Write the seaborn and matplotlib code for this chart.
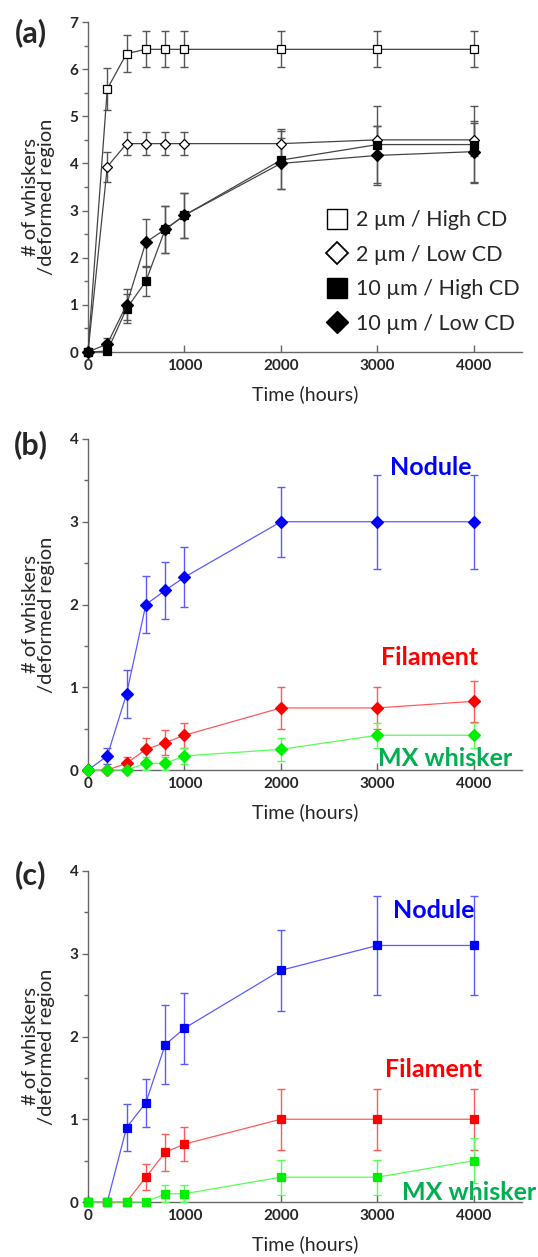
import matplotlib
matplotlib.use("Agg")
import matplotlib.pyplot as plt
import pandas as pd
import seaborn as sns
from matplotlib.lines import Line2D
from matplotlib.ticker import MultipleLocator

sns.set_style("ticks")
plt.rcParams['font.family'] = ['Lato', 'DejaVu Sans']

# ── Data ─────────────────────────────────────────────────
hours = [0, 200, 400, 600, 800, 1000, 2000, 3000, 4000]

# (a) size / current density
a_labels = ["2 µm / High CD", "2 µm / Low CD", "10 µm / High CD", "10 µm / Low CD"]
a_2um_high = [0, 5.58, 6.33, 6.42, 6.42, 6.42, 6.42, 6.42, 6.42]
a_2um_high_err = [0, 0.45, 0.39, 0.38, 0.38, 0.38, 0.38, 0.38, 0.38]
a_2um_low = [0, 3.93, 4.42, 4.42, 4.42, 4.42, 4.42, 4.50, 4.50]
a_2um_low_err = [0, 0.32, 0.25, 0.25, 0.25, 0.25, 0.30, 0.30, 0.35]
a_10um_high = [0, 0.02, 0.92, 1.50, 2.60, 2.90, 4.07, 4.40, 4.40]
a_10um_high_err = [0, 0, 0.30, 0.31, 0.50, 0.48, 0.62, 0.82, 0.82]
a_10um_low = [0, 0.17, 1.00, 2.33, 2.60, 2.90, 4.00, 4.17, 4.25]
a_10um_low_err = [0, 0.12, 0.33, 0.50, 0.50, 0.48, 0.55, 0.63, 0.65]

# (b) whisker types, diamonds
b_nodule = [0, 0.17, 0.92, 2.00, 2.17, 2.33, 3.00, 3.00, 3.00]
b_nodule_err = [0, 0.10, 0.29, 0.34, 0.34, 0.36, 0.42, 0.57, 0.57]
b_filament = [0, 0, 0.08, 0.25, 0.33, 0.42, 0.75, 0.75, 0.83]
b_filament_err = [0, 0, 0.08, 0.14, 0.15, 0.15, 0.25, 0.25, 0.25]
b_mx = [0, 0, 0, 0.08, 0.08, 0.17, 0.25, 0.42, 0.42]
b_mx_err = [0, 0, 0, 0.08, 0.08, 0.10, 0.14, 0.15, 0.15]

# (c) whisker types, squares
c_nodule = [0, 0, 0.90, 1.20, 1.90, 2.10, 2.80, 3.10, 3.10]
c_nodule_err = [0, 0, 0.28, 0.29, 0.48, 0.43, 0.49, 0.60, 0.60]
c_filament = [0, 0, 0, 0.30, 0.60, 0.70, 1.00, 1.00, 1.00]
c_filament_err = [0, 0, 0, 0.16, 0.22, 0.21, 0.37, 0.37, 0.37]
c_mx = [0, 0, 0, 0, 0.10, 0.10, 0.30, 0.30, 0.50]
c_mx_err = [0, 0, 0, 0, 0.10, 0.10, 0.21, 0.21, 0.27]

type_labels = ["Nodule", "Filament", "MX whisker"]

AXIS_GREY = "#666666"


def draw_series(ax, y, err, marker, ms, mfc, mec, line_color, err_color, z):
    df = pd.DataFrame({"t": hours, "y": y, "err": err})
    e = df[df["err"] > 0]
    ax.errorbar(e["t"], e["y"], yerr=e["err"], fmt="none", ecolor=err_color,
                elinewidth=1.0, capsize=3, capthick=1.0, zorder=z)
    sns.lineplot(data=df, x="t", y="y", ax=ax, color=line_color, linewidth=0.9,
                 marker=marker, markersize=ms, markerfacecolor=mfc,
                 markeredgecolor=mec, markeredgewidth=0.9, sort=False,
                 legend=False, zorder=z + 1, clip_on=False)


def style_axis(ax, ymax):
    ax.set_xlim(0, 4500)
    ax.set_ylim(0, ymax)
    ax.xaxis.set_major_locator(MultipleLocator(1000))
    ax.yaxis.set_major_locator(MultipleLocator(1))
    ax.yaxis.set_minor_locator(MultipleLocator(0.5))
    ax.tick_params(axis="x", direction="in", length=5, width=1, color=AXIS_GREY,
                   pad=5, labelsize=11)
    ax.tick_params(axis="y", which="major", direction="out", length=4, width=1,
                   color=AXIS_GREY, pad=3, labelsize=11)
    ax.tick_params(axis="y", which="minor", direction="out", length=3, width=1,
                   color=AXIS_GREY)
    for lab in ax.get_xticklabels() + ax.get_yticklabels():
        lab.set_fontweight("bold")
    sns.despine(ax=ax)
    for s in ("left", "bottom"):
        ax.spines[s].set_color(AXIS_GREY)
        ax.spines[s].set_linewidth(1.0)
    ax.set_xlabel("Time (hours)", fontsize=14)
    ax.set_ylabel("# of whiskers\n/deformed region", fontsize=14.5, linespacing=0.95)
    ax.xaxis.set_label_coords(0.5, -0.1)
    ax.yaxis.set_label_coords(-0.075, 0.47)
    ax.set_facecolor("white")


fig = plt.figure(figsize=(5.38, 12.57), dpi=100)
W, H = 538, 1257
ax_a = fig.add_axes([88 / W, 1 - 352 / H, 434 / W, 330 / H])
ax_b = fig.add_axes([88 / W, 1 - 770 / H, 434 / W, 331 / H])
ax_c = fig.add_axes([88 / W, 1 - 1202 / H, 434 / W, 331 / H])

# ── (a) ──────────────────────────────────────────────────
draw_series(ax_a, a_2um_high, a_2um_high_err, "s", 5.5, "white", "black", "#444444", "#555555", 3)
draw_series(ax_a, a_2um_low, a_2um_low_err, "D", 5.5, "white", "black", "#444444", "#555555", 3)
draw_series(ax_a, a_10um_high, a_10um_high_err, "s", 6, "black", "black", "#444444", "#555555", 3)
draw_series(ax_a, a_10um_low, a_10um_low_err, "D", 6, "black", "black", "#444444", "#555555", 3)
style_axis(ax_a, 7)

handles = [
    Line2D([], [], marker="s", ls="none", markersize=14, mfc="white", mec="black", mew=1),
    Line2D([], [], marker="D", ls="none", markersize=11.5, mfc="white", mec="black", mew=1.3),
    Line2D([], [], marker="s", ls="none", markersize=14, mfc="black", mec="black"),
    Line2D([], [], marker="D", ls="none", markersize=11.5, mfc="black", mec="black"),
]
ax_a.legend(handles, a_labels, loc="upper left", bbox_to_anchor=(0.55, 0.43),
            frameon=False, fontsize=15.5, handlelength=1.0, handletextpad=0.35,
            labelspacing=0.68, borderaxespad=0, borderpad=0)

# ── (b) & (c) ────────────────────────────────────────────
colors = {
    "Nodule": ("#0000ff", "#5a5aff"),
    "Filament": ("#ff0000", "#ff5a5a"),
    "MX whisker": ("#00ee00", "#55ff55"),
}
label_colors = {"Nodule": "#0000ff", "Filament": "#ff0000", "MX whisker": "#00b050"}

b_series = [(b_nodule, b_nodule_err), (b_filament, b_filament_err), (b_mx, b_mx_err)]
for name, (vals, errs) in zip(type_labels, b_series):
    mc, lc = colors[name]
    draw_series(ax_b, vals, errs, "D", 6.5, mc, mc, lc, lc, 3)
style_axis(ax_b, 4)

c_series = [(c_nodule, c_nodule_err), (c_filament, c_filament_err), (c_mx, c_mx_err)]
for name, (vals, errs) in zip(type_labels, c_series):
    mc, lc = colors[name]
    draw_series(ax_c, vals, errs, "s", 5.5, mc, mc, lc, lc, 3)
style_axis(ax_c, 4)

b_text_pos = {"Nodule": (3555, 3.65), "Filament": (3545, 1.36), "MX whisker": (3700, 0.14)}
c_text_pos = {"Nodule": (3585, 3.52), "Filament": (3585, 1.60), "MX whisker": (3950, 0.12)}
for ax, pos in ((ax_b, b_text_pos), (ax_c, c_text_pos)):
    for name in type_labels:
        x, y = pos[name]
        ax.text(x, y, name, color=label_colors[name], fontsize=18, fontweight="bold",
                ha="center", va="center", clip_on=False, zorder=10)

# panel labels
for letter, ypix in (("(a)", 33), ("(b)", 445), ("(c)", 875)):
    fig.text(31 / W, 1 - ypix / H, letter, fontsize=22, fontweight="bold",
             ha="center", va="center")

fig.savefig("out.png", dpi=100, facecolor="white")
